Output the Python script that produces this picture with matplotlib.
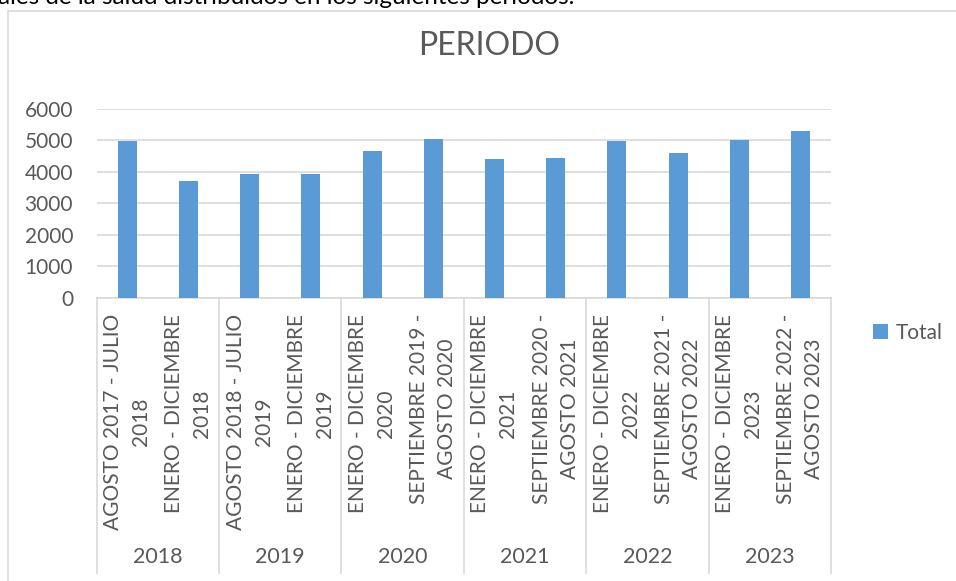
import matplotlib.pyplot as plt
import matplotlib.transforms as mtransforms
from matplotlib.patches import Rectangle
from matplotlib.lines import Line2D

plt.rcParams['font.family'] = ['Lato', 'DejaVu Sans']

# values
periods = ['AGOSTO 2017 - JULIO\n2018', 'ENERO - DICIEMBRE\n2018',
           'AGOSTO 2018 - JULIO\n2019', 'ENERO - DICIEMBRE\n2019',
           'ENERO - DICIEMBRE\n2020', 'SEPTIEMBRE 2019 -\nAGOSTO 2020',
           'ENERO - DICIEMBRE\n2021', 'SEPTIEMBRE 2020 -\nAGOSTO 2021',
           'ENERO - DICIEMBRE\n2022', 'SEPTIEMBRE 2021 -\nAGOSTO 2022',
           'ENERO - DICIEMBRE\n2023', 'SEPTIEMBRE 2022 -\nAGOSTO 2023']
years = ['2018', '2019', '2020', '2021', '2022', '2023']
totals = [4970, 3710, 3930, 3930, 4655, 5045, 4400, 4440, 4990, 4610, 5015, 5290]

W, H = 956, 581
grey = '#595959'
light = '#d9d9d9'
bar_color = '#5b9bd5'

fig = plt.figure(figsize=(W / 100, H / 100), dpi=100)

# bits of the surrounding document and the chart frame
fig.text(-2 / W, 1 - 4 / H, 'ales de la salud distribuidos en los siguientes periodos.',
         fontsize=17.5, color='black', va='baseline', ha='left')
fig.patches.append(Rectangle((8 / W, -0.2), 1.1, 1.2 - 11 / H, transform=fig.transFigure,
                             fill=False, edgecolor=light, lw=1.2))

ax = fig.add_axes([96.7 / W, 1 - 297.7 / H, (831 - 96.7) / W, (297.7 - 109) / H])
x = list(range(len(totals)))
ax.bar(x, totals, width=0.31, color=bar_color, zorder=3, label='Total')
ax.set_xlim(-0.5, len(totals) - 0.5)
ax.set_ylim(0, 6000)
ax.set_yticks(range(0, 6001, 1000))
ax.yaxis.grid(True, color=light, lw=1.2, zorder=0)
ax.set_xticks([])
for s in ['top', 'right', 'left']:
    ax.spines[s].set_visible(False)
ax.spines['bottom'].set_color(light)
ax.spines['bottom'].set_linewidth(1.2)
ax.tick_params(axis='y', length=0, pad=17, labelsize=15, labelcolor=grey)

# two-level category axis
trans = mtransforms.blended_transform_factory(ax.transData, fig.transFigure)
for i, lab in enumerate(periods):
    ax.text(i, 1 - 314 / H, lab, transform=trans, rotation=90, ha='center', va='top',
            multialignment='center', fontsize=15, color=grey, linespacing=1.5)
for g, yr in enumerate(years):
    ax.text(2 * g + 0.5, 1 - 557 / H, yr, transform=trans, ha='center', va='center',
            fontsize=15.5, color=grey)
for g in range(len(years) + 1):
    xb = 2 * g - 0.5
    fig.lines.append(Line2D([xb, xb], [1 - 297.7 / H, 1 - 573 / H], transform=trans,
                            color=light, lw=1.2))

ax.set_title('PERIODO', fontsize=23, color=grey, x=(489 - 96.7) / (831 - 96.7),
             y=1 + (109 - 54.5) / (297.7 - 109), va='center')

fig.legend(loc='center left', bbox_to_anchor=(873 / W, 1 - 333 / H), frameon=False,
           fontsize=15, labelcolor=grey, handlelength=0.7, handleheight=0.7,
           handletextpad=0.4, borderpad=0, borderaxespad=0)

fig.savefig('out.png', dpi=100)
